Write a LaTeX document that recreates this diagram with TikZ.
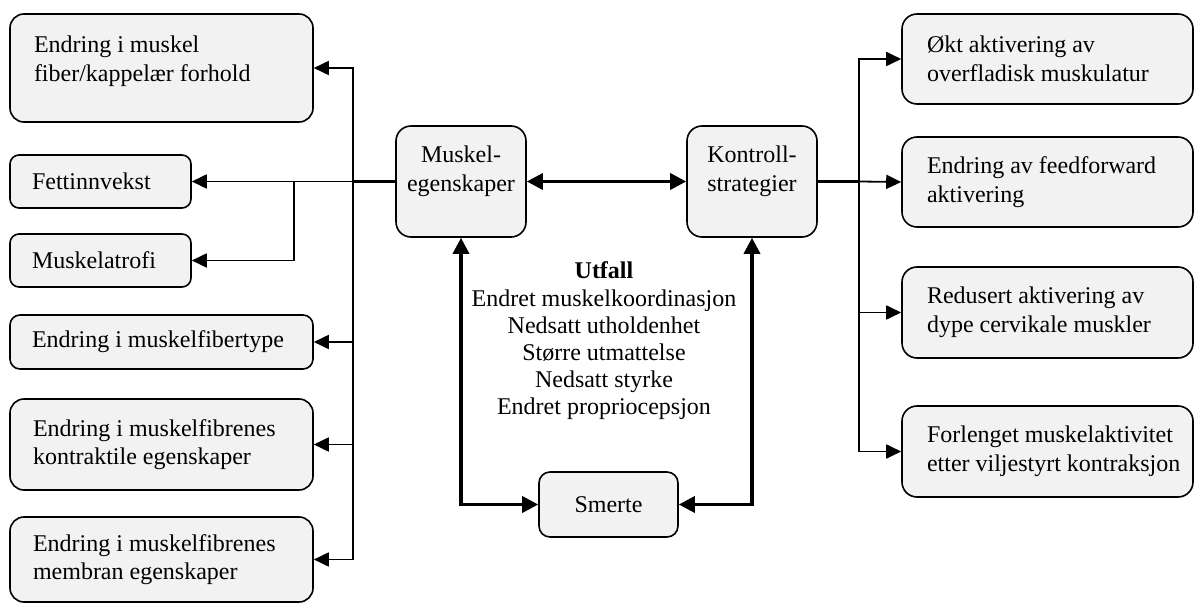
\documentclass[tikz,border=0pt]{standalone}
\usepackage{fontspec}
\setmainfont{Liberation Serif}
\usetikzlibrary{arrows.meta}
\definecolor{boxgray}{HTML}{F2F2F2}
\begin{document}
\begin{tikzpicture}[x=1pt,y=-1pt,
  box/.style={draw, fill=boxgray, line width=1.6pt, inner sep=0pt,
    font=\fontsize{24}{28.5}\selectfont},
  thn/.style={line width=1.8pt, -{Triangle[length=15pt,width=14pt]}},
  thk/.style={line width=3.4pt},
  bigtips/.style={line width=3.4pt, {Triangle[length=16pt,width=16pt]}-{Triangle[length=16pt,width=16pt]}},
  outcome/.style={font=\fontsize{24}{27.2}\selectfont, align=center, inner sep=0pt}
]
\useasboundingbox (0,0) rectangle (1194,604);

% left boxes
\node[box, rounded corners=14pt, minimum width=303pt, minimum height=108pt] (L1) at (161.5,68)
  {\hspace*{24pt}\parbox[c]{274pt}{\raggedright Endring i muskel\\fiber/kappelær forhold\rule[-19pt]{0pt}{19pt}}\hspace*{5pt}};
\node[box, rounded corners=9pt, minimum width=181pt, minimum height=53pt] (L2) at (100.5,181.5)
  {\hspace*{22pt}\parbox[c]{154pt}{\raggedright Fettinnvekst}\hspace*{5pt}};
\node[box, rounded corners=9pt, minimum width=181pt, minimum height=53pt] (L3) at (100.5,260.5)
  {\hspace*{22pt}\parbox[c]{154pt}{\raggedright Muskelatrofi}\hspace*{5pt}};
\node[box, rounded corners=10pt, minimum width=303pt, minimum height=54pt] (L4) at (161.5,342)
  {\hspace*{22pt}\parbox[c]{276pt}{\raggedright Endring i muskelfibertype}\hspace*{5pt}};
\node[box, rounded corners=14pt, minimum width=303pt, minimum height=91pt] (L5) at (161.5,444.5)
  {\hspace*{23pt}\parbox[c]{275pt}{\raggedright Endring i muskelfibrenes\\kontraktile egenskaper}\hspace*{5pt}};
\node[box, rounded corners=14pt, minimum width=303pt, minimum height=85pt] (L6) at (161.5,559.5)
  {\hspace*{23pt}\parbox[c]{275pt}{\raggedright Endring i muskelfibrenes\\membran egenskaper}\hspace*{5pt}};

% central boxes
\node[box, rounded corners=15pt, minimum width=130pt, minimum height=111pt] (M) at (461,181.5)
  {\parbox[c]{130pt}{\centering Muskel-\\egenskaper\rule[-26pt]{0pt}{26pt}}};
\node[box, rounded corners=15pt, minimum width=130pt, minimum height=111pt] (K) at (752,181.5)
  {\parbox[c]{130pt}{\centering Kontroll-\\strategier\rule[-26pt]{0pt}{26pt}}};
\node[box, rounded corners=11pt, minimum width=139pt, minimum height=65pt] (S) at (608.5,504.5)
  {Smerte};

% right boxes
\node[box, rounded corners=15pt, minimum width=291pt, minimum height=90pt] (R1) at (1047.5,59)
  {\hspace*{25pt}\parbox[c]{261pt}{\raggedright Økt aktivering av\\overfladisk muskulatur}\hspace*{5pt}};
\node[box, rounded corners=15pt, minimum width=291pt, minimum height=90pt] (R2) at (1047.5,182)
  {\hspace*{25pt}\parbox[c]{261pt}{\raggedright Endring av feedforward\\aktivering}\hspace*{5pt}};
\node[box, rounded corners=15pt, minimum width=291pt, minimum height=91pt] (R3) at (1047.5,312.5)
  {\hspace*{25pt}\parbox[c]{261pt}{\raggedright Redusert aktivering av\\dype cervikale muskler}\hspace*{5pt}};
\node[box, rounded corners=15pt, minimum width=291pt, minimum height=91pt] (R4) at (1047.5,451.5)
  {\hspace*{25pt}\parbox[c]{261pt}{\raggedright Forlenget muskelaktivitet\\etter viljestyrt kontraksjon}\hspace*{5pt}};

% outcome text
\node[outcome] (U) at (604,341)
  {\textbf{Utfall}\\Endret muskelkoordinasjon\\Nedsatt utholdenhet\\Større utmattelse\\Nedsatt styrke\\Endret propriocepsjon};

% left connectors
\coordinate (jl) at (353,181.5);
\coordinate (br) at (294,181.5);
\draw[thk] (M.west) -- (jl);
\draw[thn] (jl) -- (L2.east);
\draw[thn] (br) |- (L3.east);
\draw[thn] (jl) |- (L1.east);
\draw[thn] (jl) |- (L6.east);
\draw[thn] (jl |- L4.east) -- (L4.east);
\draw[thn] (jl |- L5.east) -- (L5.east);

% right connectors
\coordinate (jr) at (859,181.5);
\draw[thk] (K.east) -- (jr);
\draw[thn] (jr) -- (R2.west);
\draw[thn] (jr) |- (R1.west);
\draw[thn] (jr) |- (R4.west);
\draw[thn] (jr |- R3.west) -- (R3.west);

% central connectors
\draw[bigtips] (M.east) -- (K.west);
\draw[bigtips] (M.south) |- (S.west);
\draw[bigtips] (K.south) |- (S.east);
\end{tikzpicture}
\end{document}
